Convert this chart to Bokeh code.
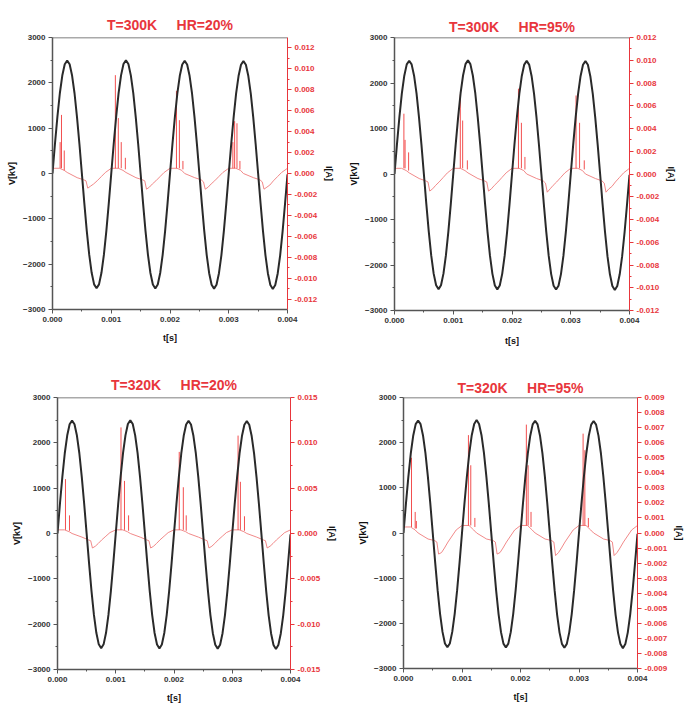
import numpy as np
from bokeh.plotting import figure
from bokeh.layouts import column, row
from bokeh.models import LinearAxis, Range1d, FixedTicker, NumeralTickFormatter, Title, Span
from bokeh.embed import file_html
from bokeh.resources import INLINE

# ---------------- data ----------------
# voltage [kV], sampled every 1/24 of the 1 ms period, t = 0 .. 0.004 s
t_v = np.linspace(0.0, 0.004, 97)
v_kv = [
    0, 650, 1250, 1770, 2160, 2410, 2490, 2410, 2160, 1770, 1250, 650,
    0, -655, -1265, -1790, -2190, -2445, -2530, -2445, -2190, -1790, -1265, -655,
    0, 650, 1250, 1775, 2165, 2415, 2500, 2415, 2165, 1775, 1250, 650,
    0, -658, -1270, -1795, -2195, -2450, -2535, -2450, -2195, -1795, -1270, -658,
    0, 648, 1248, 1765, 2155, 2405, 2485, 2405, 2155, 1765, 1248, 648,
    0, -660, -1272, -1800, -2200, -2455, -2540, -2455, -2200, -1800, -1272, -660,
    0, 645, 1245, 1760, 2150, 2400, 2480, 2400, 2150, 1760, 1245, 645,
    0, -662, -1275, -1805, -2205, -2460, -2550, -2460, -2205, -1805, -1275, -662,
    -20,
]

# current baseline sample times [s]
base_offsets = [0, 0.00012, 0.0002, 0.00025, 0.00042, 0.00053, 0.00057,
                0.0006, 0.00065, 0.0007, 0.00076, 0.00083, 0.0009]
t_base = [k * 0.001 + o for k in range(4) for o in base_offsets] + [0.004]

# current baseline [A] per panel
i_base_300_20 = [
    0.0005, 0.0005, 0.0003, 0.0001, -0.0004, -0.0006, -0.0007, -0.0014, -0.0012, -0.0010, -0.0007, -0.0003, 0.0001,
    0.0005, 0.0005, 0.0003, 0.0001, -0.0004, -0.0006, -0.0007, -0.0015, -0.0013, -0.0010, -0.0007, -0.0003, 0.0001,
    0.0005, 0.0005, 0.0003, 0.0000, -0.0004, -0.0006, -0.0008, -0.0015, -0.0013, -0.0010, -0.0007, -0.0003, 0.0001,
    0.0005, 0.0005, 0.0003, 0.0000, -0.0004, -0.0006, -0.0008, -0.0015, -0.0013, -0.0011, -0.0007, -0.0003, 0.0001,
    0.0005,
]
i_base_300_95 = [
    0.0005, 0.0005, 0.0003, 0.0001, -0.0004, -0.0006, -0.0007, -0.0015, -0.0013, -0.0010, -0.0007, -0.0003, 0.0001,
    0.0005, 0.0005, 0.0003, 0.0001, -0.0004, -0.0006, -0.0007, -0.0015, -0.0013, -0.0010, -0.0007, -0.0003, 0.0001,
    0.0005, 0.0005, 0.0003, 0.0000, -0.0004, -0.0006, -0.0008, -0.0016, -0.0013, -0.0010, -0.0007, -0.0003, 0.0001,
    0.0005, 0.0005, 0.0003, 0.0000, -0.0004, -0.0006, -0.0008, -0.0016, -0.0013, -0.0011, -0.0007, -0.0003, 0.0001,
    0.0005,
]
i_base_320_20 = [
    0.0004, 0.0004, 0.0002, 0.0000, -0.0004, -0.0007, -0.0008, -0.0016, -0.0014, -0.0011, -0.0007, -0.0003, 0.0001,
    0.0004, 0.0004, 0.0002, 0.0000, -0.0004, -0.0007, -0.0008, -0.0016, -0.0014, -0.0011, -0.0007, -0.0003, 0.0001,
    0.0004, 0.0004, 0.0002, 0.0000, -0.0004, -0.0007, -0.0008, -0.0016, -0.0014, -0.0011, -0.0007, -0.0003, 0.0001,
    0.0004, 0.0004, 0.0002, 0.0000, -0.0004, -0.0007, -0.0008, -0.0016, -0.0014, -0.0011, -0.0007, -0.0003, 0.0001,
    0.0004,
]
i_base_320_95 = [
    0.0004, 0.0004, 0.0002, 0.0000, -0.0004, -0.0005, -0.0006, -0.0014, -0.0013, -0.0010, -0.0006, -0.0002, 0.0002,
    0.0005, 0.0005, 0.0002, 0.0000, -0.0004, -0.0005, -0.0006, -0.0014, -0.0013, -0.0010, -0.0006, -0.0002, 0.0002,
    0.0005, 0.0005, 0.0002, 0.0000, -0.0004, -0.0005, -0.0006, -0.0015, -0.0013, -0.0010, -0.0006, -0.0002, 0.0002,
    0.0005, 0.0005, 0.0002, 0.0000, -0.0004, -0.0005, -0.0006, -0.0015, -0.0013, -0.0010, -0.0006, -0.0002, 0.0002,
    0.0005,
]

# discharge current spikes: time [s], base [A], peak [A]
spk_t_300_20 = [0.00013, 0.000153, 0.0002, 0.00107, 0.00112, 0.00117, 0.00124,
                0.00211, 0.00216, 0.00222, 0.00307, 0.0031, 0.00314, 0.00319]
spk_lo_300_20 = [0.0005, 0.0005, 0.0003, 0.0005, 0.0005, 0.0005, 0.0004,
                 0.0005, 0.0005, 0.0004, 0.0005, 0.0005, 0.0005, 0.0004]
spk_hi_300_20 = [0.0030, 0.0056, 0.0022, 0.0094, 0.0053, 0.0030, 0.0015,
                 0.0079, 0.0051, 0.0012, 0.0030, 0.0050, 0.0048, 0.0012]

spk_t_300_95 = [0.00016, 0.00018, 0.00024, 0.00112, 0.00116, 0.00124,
                0.00211, 0.00216, 0.00222, 0.00309, 0.00315, 0.00323]
spk_lo_300_95 = [0.0005, 0.0005, 0.0003, 0.0005, 0.0005, 0.0004,
                 0.0005, 0.0005, 0.0004, 0.0005, 0.0005, 0.0004]
spk_hi_300_95 = [0.0053, 0.0030, 0.0019, 0.0070, 0.0047, 0.0012,
                 0.0075, 0.0045, 0.0015, 0.0069, 0.0045, 0.0012]

spk_t_320_20 = [0.000137, 0.000206, 0.00109, 0.00115, 0.00122,
                0.00209, 0.00216, 0.00221, 0.0031, 0.00314, 0.00321]
spk_lo_320_20 = [0.0004, 0.0003, 0.0004, 0.0004, 0.0003,
                 0.0004, 0.0004, 0.0003, 0.0004, 0.0004, 0.0003]
spk_hi_320_20 = [0.0060, 0.0020, 0.0117, 0.0058, 0.0020,
                 0.0090, 0.0051, 0.0020, 0.0108, 0.0057, 0.0019]

spk_t_320_95 = [0.000137, 0.0002, 0.00022, 0.00111, 0.00115, 0.00122,
                0.0021, 0.00213, 0.00218, 0.00307, 0.0031, 0.00316]
spk_lo_320_95 = [0.0004, 0.0003, 0.0003, 0.0005, 0.0005, 0.0004,
                 0.0005, 0.0005, 0.0004, 0.0005, 0.0005, 0.0004]
spk_hi_320_95 = [0.0050, 0.0014, 0.0008, 0.0065, 0.0045, 0.0010,
                 0.0072, 0.0045, 0.0014, 0.0066, 0.0055, 0.0010]

GAP = "\u00a0\u00a0\u00a0\u00a0\u00a0"
titles = ["T=300K" + GAP + "HR=20%", "T=300K" + GAP + "HR=95%",
          "T=320K" + GAP + "HR=20%", "T=320K" + GAP + "HR=95%"]
x_ticks = [0.0, 0.001, 0.002, 0.003, 0.004]
v_ticks = [-3000, -2000, -1000, 0, 1000, 2000, 3000]
i_ticks_a = [-0.012, -0.010, -0.008, -0.006, -0.004, -0.002, 0.0, 0.002, 0.004, 0.006, 0.008, 0.010, 0.012]
i_ticks_c = [-0.015, -0.010, -0.005, 0.0, 0.005, 0.010, 0.015]
i_ticks_d = [-0.009, -0.008, -0.007, -0.006, -0.005, -0.004, -0.003, -0.002, -0.001, 0.0,
             0.001, 0.002, 0.003, 0.004, 0.005, 0.006, 0.007, 0.008, 0.009]

RED = "#e8363c"
DARK = "#333333"
FONT = "Liberation Sans"


def panel(title, t_off, t_stand, i_lim, i_ticks, i_minor, i_base, sp_t, sp_lo, sp_hi,
          fw, fh, bl, br, bt, bb, xlabel_standoff):
    p = figure(frame_width=fw, frame_height=fh,
               min_border_left=bl, min_border_right=br, min_border_top=bt, min_border_bottom=bb,
               x_range=Range1d(0, 0.004), y_range=Range1d(-3000, 3000),
               output_backend="svg", toolbar_location=None, tools="")
    p.title = Title(text=title, align="center", offset=t_off, standoff=t_stand,
                    text_color=RED, text_font=FONT,
                    text_font_size="14px", text_font_style="bold")
    p.outline_line_color = None
    p.xgrid.visible = False
    p.ygrid.visible = False
    p.background_fill_color = "white"
    p.border_fill_color = "white"

    p.extra_y_ranges = {"i": Range1d(-i_lim, i_lim)}

    # current baseline and spikes (secondary axis)
    p.line(t_base, i_base, y_range_name="i", line_color="#f07c7c", line_width=1, line_alpha=0.9)
    p.segment(x0=sp_t, x1=sp_t, y0=sp_lo, y1=sp_hi, y_range_name="i",
              line_color="#f03030", line_width=1, line_alpha=0.85)
    # voltage
    p.line(t_v, v_kv, line_color="#2a2a2a", line_width=2)

    p.add_layout(Span(location=3000, dimension="width", line_color="#555555", line_width=1.5))

    xa = p.xaxis[0]
    xa.ticker = FixedTicker(ticks=x_ticks, minor_ticks=[0.0005, 0.0015, 0.0025, 0.0035])
    xa.formatter = NumeralTickFormatter(format="0.000")
    xa.axis_label = "t[s]"
    xa.axis_label_standoff = xlabel_standoff

    ya = p.yaxis[0]
    ya.ticker = FixedTicker(ticks=v_ticks, minor_ticks=[-2500, -1500, -500, 500, 1500, 2500])
    ya.axis_label = "V[kV]"
    ya.axis_label_standoff = 3

    ra = LinearAxis(y_range_name="i", axis_label="I[A]")
    ra.ticker = FixedTicker(ticks=i_ticks, minor_ticks=i_minor)
    ra.formatter = NumeralTickFormatter(format="0.000")
    ra.axis_label_standoff = 4
    p.add_layout(ra, "right")

    for ax in (xa, ya, ra):
        ax.major_label_text_font = FONT
        ax.major_label_text_font_style = "bold"
        ax.major_label_text_font_size = "8px"
        ax.major_label_standoff = 3
        ax.axis_label_text_font = FONT
        ax.axis_label_text_font_style = "bold"
        ax.axis_label_text_font_size = "9px"
        ax.axis_label_text_color = "#111111"
        ax.major_tick_out = 4
        ax.major_tick_in = 0
        ax.minor_tick_out = 2
        ax.minor_tick_in = 0
        ax.axis_line_width = 1.5
        ax.major_tick_line_width = 1
    for ax in (xa, ya):
        ax.axis_line_color = "#555555"
        ax.major_tick_line_color = "#555555"
        ax.minor_tick_line_color = "#555555"
        ax.major_label_text_color = DARK
    ra.axis_line_color = RED
    ra.major_tick_line_color = RED
    ra.minor_tick_line_color = RED
    ra.major_label_text_color = RED
    ra.axis_line_width = 1
    return p


minor_a = [-0.011, -0.009, -0.007, -0.005, -0.003, -0.001, 0.001, 0.003, 0.005, 0.007, 0.009, 0.011]
minor_c = [-0.0125, -0.0075, -0.0025, 0.0025, 0.0075, 0.0125]

p1 = panel(titles[0], -8, 9, 0.013, i_ticks_a, minor_a, i_base_300_20,
           spk_t_300_20, spk_lo_300_20, spk_hi_300_20, 235, 272, 52, 55, 37, 46, 8)
p2 = panel(titles[1], -10, 6, 0.012, i_ticks_a, minor_a, i_base_300_95,
           spk_t_300_95, spk_lo_300_95, spk_hi_300_95, 235, 273, 52, 55, 37, 45, 10)
p3 = panel(titles[2], -16, 9, 0.015, i_ticks_c, minor_c, i_base_320_20,
           spk_t_320_20, spk_lo_320_20, spk_hi_320_20, 233, 272, 57, 52, 42, 42, 8)
p4 = panel(titles[3], 4, 3, 0.009, i_ticks_d, [], i_base_320_95,
           spk_t_320_95, spk_lo_320_95, spk_hi_320_95, 234, 271, 61, 47, 33, 52, 8)

layout = column(row(p1, p2, spacing=0), row(p3, p4, spacing=0), spacing=0)

open("out.html", "w").write(file_html(layout, INLINE))
